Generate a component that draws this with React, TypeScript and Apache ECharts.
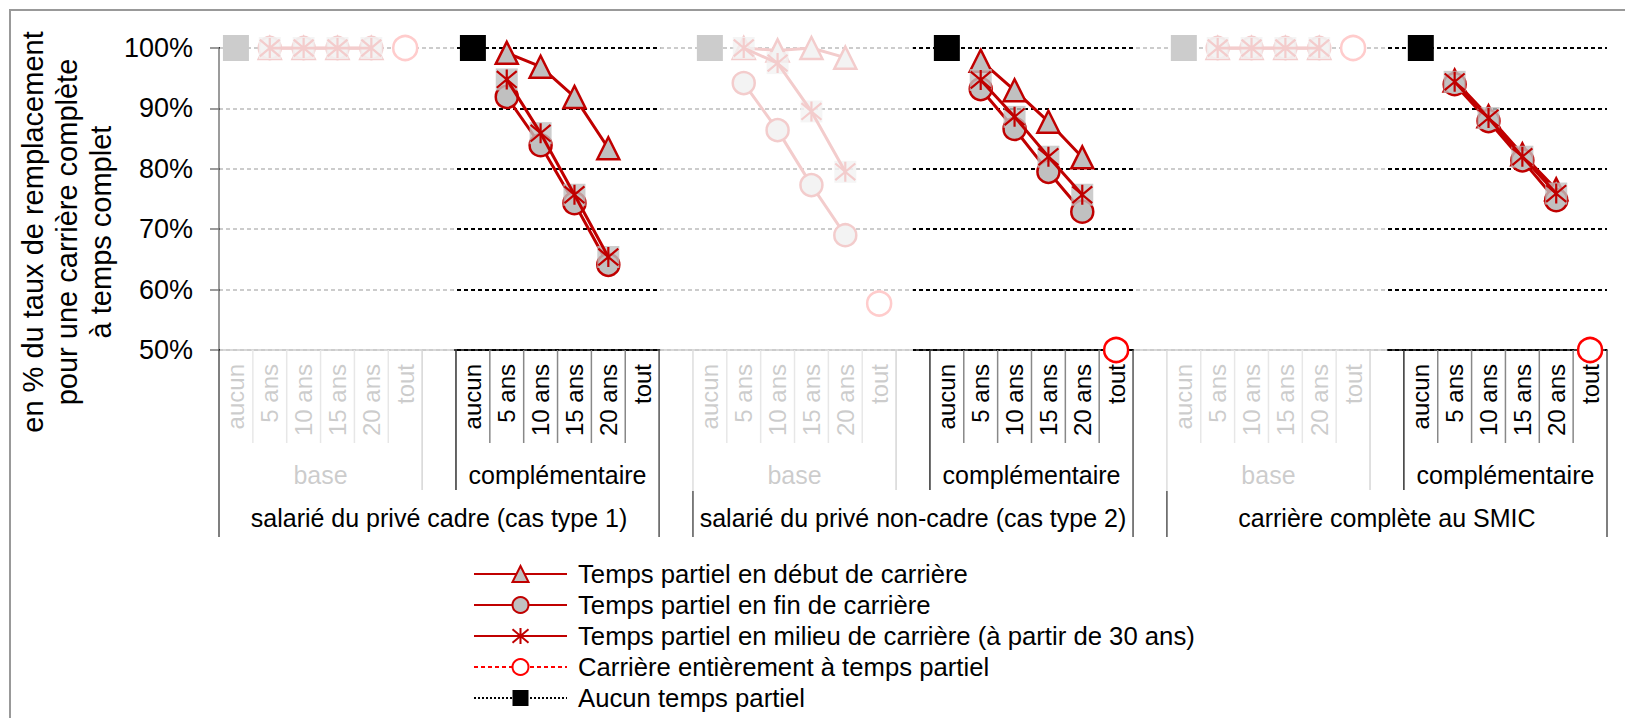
import React, { useEffect, useRef } from 'react';
import * as echarts from 'echarts';

const FONT = 'Liberation Sans, Arial, Helvetica, sans-serif';

const groups = [
  'salarié du privé cadre (cas type 1)',
  'salarié du privé non-cadre (cas type 2)',
  'carrière complète au SMIC',
];
const subGroups = ['base', 'complémentaire'];
const durations = ['aucun', '5 ans', '10 ans', '15 ans', '20 ans', 'tout'];
const yTicks = [50, 60, 70, 80, 90, 100];

const seriesNames = [
  'Temps partiel en début de carrière',
  'Temps partiel en fin de carrière',
  'Temps partiel en milieu de carrière (à partir de 30 ans)',
  'Carrière entièrement à temps partiel',
  'Aucun temps partiel',
];

// per group: 6 values for "base" then 6 values for "complémentaire"
const debut = [
  [null, 100, 100, 100, 100, null, null, 99.2, 96.9, 91.9, 83.4, null],
  [null, 100, 99.6, 100, 98.4, null, null, 97.9, 93.0, 87.8, 81.9, null],
  [null, 100, 100, 100, 100, null, null, 94.6, 88.7, 82.4, 76.6, null],
];
const fin = [
  [null, 100, 100, 100, 100, null, null, 91.9, 83.9, 74.3, 64.1, null],
  [null, 94.2, 86.4, 77.3, 69.0, null, null, 93.2, 86.6, 79.5, 72.9, null],
  [null, 100, 100, 100, 100, null, null, 94.0, 87.9, 81.4, 74.8, null],
];
const milieu = [
  [null, 100, 100, 100, 100, null, null, 94.8, 85.9, 75.7, 65.4, null],
  [null, 100, 97.5, 89.5, 79.5, null, null, 94.7, 88.6, 82.0, 75.7, null],
  [null, 100, 100, 100, 100, null, null, 94.4, 88.4, 82.0, 75.9, null],
];
const entier = [
  [null, null, null, null, null, 100, null, null, null, null, null, null],
  [null, null, null, null, null, 57.7, null, null, null, null, null, 50],
  [null, null, null, null, null, 100, null, null, null, null, null, 50],
];
const aucun = [
  [100, null, null, null, null, null, 100, null, null, null, null, null],
  [100, null, null, null, null, null, 100, null, null, null, null, null],
  [100, null, null, null, null, null, 100, null, null, null, null, null],
];

function spread<T>(rows: T[][], blank: T): T[] {
  const out: T[] = [];
  rows.forEach((r, g) => {
    out.push(...r.slice(0, 6), blank, ...r.slice(6));
    if (g < rows.length - 1) out.push(blank);
  });
  return out;
}

const categories = spread(groups.map(() => [...durations, ...durations]), '');

const RED = '#C00000';
const GRAY = '#C0C0C0';

export default function App() {
  const ref = useRef<HTMLDivElement>(null);
  useEffect(() => {
    if (!ref.current) return;
    const chart = echarts.init(ref.current, null, { renderer: 'svg' });
    const option: any = {
      animation: false,
      textStyle: { fontFamily: FONT },
      grid: { left: 219, right: 18, top: 48, bottom: 368, containLabel: false },
      legend: {
        orient: 'vertical',
        left: 473,
        top: 559,
        padding: 0,
        itemWidth: 93,
        itemHeight: 20,
        itemGap: 1,
        selectedMode: false,
        data: seriesNames,
        textStyle: { fontSize: 25.7, color: '#000', fontFamily: FONT, lineHeight: 30, padding: [0, 0, 0, 6] },
      },
      xAxis: {
        type: 'category',
        data: categories,
        boundaryGap: true,
        axisLine: { show: true, lineStyle: { color: '#000', width: 1.5 } },
        axisTick: { show: false },
        axisLabel: { interval: 0, rotate: 90, fontSize: 24, margin: 14, color: '#000', fontFamily: FONT },
        splitLine: { show: false },
      },
      yAxis: {
        type: 'value',
        min: yTicks[0],
        max: yTicks[yTicks.length - 1],
        interval: 10,
        axisLine: { show: true, lineStyle: { color: '#7a7a7a', width: 1.5 } },
        axisTick: { show: true, length: 9, lineStyle: { color: '#7a7a7a', width: 1.5 } },
        axisLabel: { formatter: '{value}%', fontSize: 27, margin: 26, color: '#000', fontFamily: FONT },
        splitLine: { show: true, lineStyle: { color: '#000', width: 2, type: [4, 3] } },
      },
      series: [
        {
          name: seriesNames[0], type: 'line', data: spread(debut, null), z: 2,
          symbol: 'triangle', symbolSize: 22, showAllSymbol: true,
          lineStyle: { color: RED, width: 3 },
          itemStyle: { color: GRAY, borderColor: RED, borderWidth: 2.5 },
        },
        {
          name: seriesNames[1], type: 'line', data: spread(fin, null), z: 2,
          symbol: 'circle', symbolSize: 22, showAllSymbol: true,
          lineStyle: { color: RED, width: 3 },
          itemStyle: { color: GRAY, borderColor: RED, borderWidth: 2.5 },
        },
        {
          name: 'milieu-fond', type: 'scatter', data: spread(milieu, null), z: 3,
          symbol: 'rect', symbolSize: 22,
          itemStyle: { color: GRAY, borderWidth: 0 },
        },
        {
          name: seriesNames[2], type: 'line', data: spread(milieu, null), z: 4,
          symbol: 'path://M0,0L10,10M10,0L0,10M5,-1L5,11', symbolSize: 20, showAllSymbol: true,
          lineStyle: { color: RED, width: 3 },
          itemStyle: { color: RED, borderColor: RED, borderWidth: 2.2 },
        },
        {
          name: seriesNames[3], type: 'line', data: spread(entier, null), z: 5,
          symbol: 'circle', symbolSize: 24, showAllSymbol: true,
          lineStyle: { color: '#FF0000', width: 1.5, type: [4, 3] },
          itemStyle: { color: '#FFFFFF', borderColor: '#FF0000', borderWidth: 2.5 },
        },
        {
          name: seriesNames[4], type: 'line', data: spread(aucun, null), z: 5,
          symbol: 'rect', symbolSize: 26, showAllSymbol: true,
          lineStyle: { color: '#000', width: 1, type: 'dotted' },
          itemStyle: { color: '#000', borderColor: '#000', borderWidth: 0 },
        },
      ],
    };
    chart.setOption(option);

    const xc = (i: number) => chart.convertToPixel({ xAxisIndex: 0 }, i) as number;
    const w = xc(1) - xc(0);
    const edge = (i: number) => xc(i) - w / 2;
    const y0 = chart.convertToPixel({ yAxisIndex: 0 }, yTicks[0]) as number;
    const yTop = chart.convertToPixel({ yAxisIndex: 0 }, yTicks[yTicks.length - 1]) as number;

    const els: any[] = [];
    const vline = (x: number, ya: number, yb: number, color: string) =>
      els.push({ type: 'line', shape: { x1: x, y1: ya, x2: x, y2: yb }, style: { stroke: color, lineWidth: 1.5 }, z: 1 });
    const text = (x: number, y: number, t: string, size: number) =>
      els.push({
        type: 'text', x, y, z: 1,
        style: { text: t, fontSize: size, fontFamily: FONT, fill: '#000', align: 'center', verticalAlign: 'middle' },
      });

    groups.forEach((name, g) => {
      const s = g * 14;
      vline(edge(s), y0, y0 + 187, '#555');
      vline(edge(s + 13), y0, y0 + 187, '#555');
      for (let k = 1; k < 6; k++) {
        vline(edge(s + k), y0, y0 + 93, '#888');
        vline(edge(s + 7 + k), y0, y0 + 93, '#888');
      }
      vline(edge(s + 6), y0, y0 + 140, '#333');
      vline(edge(s + 7), y0, y0 + 140, '#333');
      text((edge(s) + edge(s + 6)) / 2, y0 + 125, subGroups[0], 25);
      text((edge(s + 7) + edge(s + 13)) / 2, y0 + 125, subGroups[1], 25);
      text((edge(s) + edge(s + 13)) / 2, y0 + 168, name, 25);
      const x0 = g === 0 ? edge(0) + 1 : edge(s - 1) + 1;
      const x1 = g === 0 ? edge(s + 7) - 2 : xc(s + 6);
      els.push({
        type: 'rect', z: 100,
        shape: { x: x0, y: yTop - 26, width: x1 - x0, height: y0 + 141 - (yTop - 26) },
        style: { fill: 'rgba(255,255,255,0.8)' },
      });
    });

    els.push({
      type: 'text', x: 67, y: 232, rotation: Math.PI / 2, z: 1,
      style: {
        text: 'en % du taux de remplacement\npour une carrière complète\nà temps complet',
        fontSize: 29, lineHeight: 34, fontFamily: FONT, fill: '#000', align: 'center', verticalAlign: 'middle',
      },
    });
    els.push({
      type: 'rect', z: 1,
      shape: { x: 10, y: 10, width: 1700, height: 800 },
      style: { fill: 'none', stroke: '#999', lineWidth: 2 },
    });

    chart.setOption({ graphic: els });
    return () => chart.dispose();
  }, []);
  return <div ref={ref} style={{ position: 'absolute', left: 0, top: 0, width: 1625, height: 718 }} />;
}
